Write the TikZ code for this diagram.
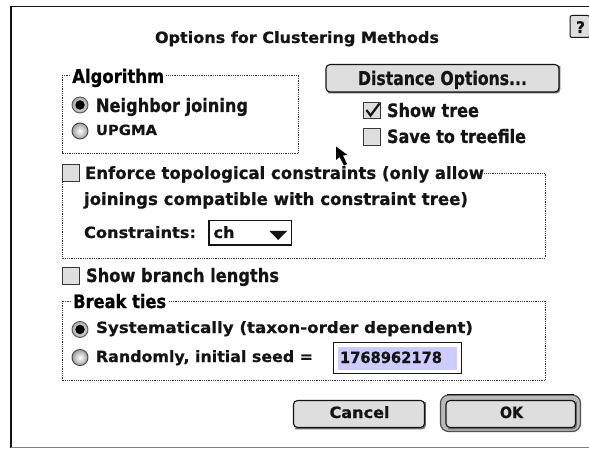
\documentclass[tikz,border=0pt]{standalone}
\usepackage{fontspec}
\setmainfont{DejaVu Sans}[BoldFont={DejaVu Sans Bold},BoldFeatures={FakeBold=0.6}]
\usetikzlibrary{calc}
\definecolor{ink}{HTML}{141414}
\definecolor{btn}{HTML}{DEDEDE}
\definecolor{shade}{HTML}{707070}
\definecolor{sel}{HTML}{CCCCFF}
\newsavebox{\lblbox}
\newcommand{\fitted}[3]{\sbox{\lblbox}{\fontsize{#2}{#2}\selectfont\bfseries #3}\pgfmathsetmacro{\sxf}{#1/\the\wd\lblbox}\scalebox{\sxf}[1]{\usebox{\lblbox}}}
\newcommand{\lbl}[7][]{\node[lab,#1] (#2) at (#3,#4) {\fitted{#5}{#6}{#7}};}
\tikzset{
  x=1pt,y=-1pt,
  lab/.style={anchor=base west,inner sep=0pt,outer sep=0pt,text=ink},
  legend/.style={fill=white,inner xsep=2pt,inner ysep=1pt},
  groupbox/.style={draw=ink!85,line width=0.9pt,dash pattern=on 0.9pt off 0.9pt},
  btnface/.style={draw=ink,line width=1.1pt,rounded corners=4pt,fill=btn},
  btnshadow/.style={draw=shade,line width=1.6pt,rounded corners=3pt},
  chk/.style={draw=ink!85,line width=1pt,fill=btn},
  field/.style={draw=ink,line width=1.2pt,fill=white},
  radioon/.style={circle,minimum size=16pt,inner sep=0pt,draw=ink!70,line width=0.9pt,inner color=white,outer color=gray!70},
  radiooff/.style={circle,minimum size=16pt,inner sep=0pt,draw=ink!80,line width=0.9pt,inner color=white,outer color=gray!75},
  dot/.style={circle,minimum size=9.5pt,inner sep=0pt,fill=black},
}
\begin{document}
\begin{tikzpicture}
\useasboundingbox (0,0) rectangle (589,449);
\fill[white] (0,0) rectangle (589,449);
% window frame
\coordinate (wtl) at (11,6.5);
\coordinate (wtr) at (589,6.5);
\coordinate (wbl) at (11,447.5);
\coordinate (wbr) at (589,447.5);
\draw[ink,line width=1.3pt] (wtr) -- (wtl) -- (wbl);
\draw[gray,line width=1.2pt] (wbl) -- (wbr);
% title
\lbl{title}{155}{43}{284}{15.5}{Options for Clustering Methods}
% help button
\draw[btnface,line width=1pt,rounded corners=2pt] (570,15.5) -- (589.5,15.5) -- (589.5,37.5) -- (570,37.5) -- cycle;
\lbl{help}{576}{33}{9}{16}{?}
% Algorithm group
\draw[groupbox] (62,75) rectangle (298.5,153);
\node[legend,anchor=base west,inner xsep=2pt] (algbg) at (70,83) {\fitted{92}{19}{Algorithm}};
\node[radioon] (rnj) at (80,105) {};
\node[dot] (rnjd) at (80,105) {};
\lbl{nj}{96}{112}{152}{18.5}{Neighbor joining}
\node[radiooff] (rup) at (80,131) {};
\lbl{up}{96}{135}{61}{14}{UPGMA}
% Distance options
\draw[btnshadow] (328,92.5) -- (559.5,92.5) -- (559.5,66);
\draw[btnface] (326,64.5) rectangle (559,92);
\lbl{dist}{358}{85}{169}{19}{Distance Options...}
% Checks
\draw[chk] (363,102.5) rectangle (380,118.5);
\draw[ink,line width=2.2pt] (366.5,110) coordinate (c1) -- (370.5,115.5) coordinate (c2) -- (379.5,103.5) coordinate (c3);
\lbl{st}{387}{117}{92}{18.5}{Show tree}
\draw[chk] (363,128.5) rectangle (380,145.5);
\lbl{sv}{387}{143}{139}{18.5}{Save to treefile}
% Cursor
\fill[black] (336,146.5) coordinate (cur) -- (336,160) -- (339.5,157) -- (344,165.5) -- (347,164) -- (343,155.5) -- (347.5,155) -- cycle;
% Enforce group
\draw[groupbox] (62,182) -- (62,258) -- (545,258) -- (545,173) -- (484,173);
\draw[chk] (62.5,165) rectangle (79,181.5);
\lbl{en}{85}{179}{399}{17}{Enforce topological constraints (only allow}
\lbl{jo}{84}{205}{384}{17}{joinings compatible with constraint tree)}
\lbl{co}{84}{238}{112}{15.5}{Constraints:}
\draw[ink,line width=1.1pt] (209,220.5) -- (291.5,220.5) -- (291.5,245) -- (209,245) -- cycle;
\draw[ink,line width=1.1pt] (291.8,221) -- (291.8,245.5) -- (209,245.5);
\lbl{ch}{213.5}{238}{21}{15.5}{ch}
\fill[ink] (269.5,231) coordinate (tri) -- (287,231) -- (278.2,240) -- cycle;
% Show branch lengths
\draw[chk] (62.5,267) rectangle (79,284.5);
\lbl{br}{86}{282}{193}{18.5}{Show branch lengths}
% Break ties group
\draw[groupbox] (62,301) rectangle (545,380.5);
\node[legend,anchor=base west] (bkbg) at (71,308) {\fitted{93}{18.5}{Break ties}};
\node[radioon] (rsy) at (80,329.5) {};
\node[dot] (rsyd) at (80,329.5) {};
\lbl{sy}{96}{333}{377}{15.5}{Systematically (taxon-order dependent)}
\node[radiooff] (rra) at (80,357.5) {};
\lbl{ra}{96}{362}{217}{15.5}{Randomly, initial seed =}
\draw[field] (333.5,342.5) rectangle (461.5,373.5);
\fill[sel] (337.5,346.5) rectangle (457,370);
\lbl{sd}{340}{363}{102}{15.5}{1768962178}
% Cancel
\draw[btnshadow] (295,428.5) -- (425,428.5) -- (425,402);
\draw[btnface] (293.5,400.5) rectangle (424.5,427.5);
\lbl{ca}{329.5}{418}{60}{15.5}{Cancel}
% OK
\draw[draw=ink!75,line width=1.2pt,fill=gray!55,rounded corners=8pt] (440.5,395) rectangle (580.5,431.5);
\draw[ink,line width=1.8pt] (447,394.5) -- (574,394.5);
\draw[btnshadow] (448,428.5) -- (576,428.5) -- (576,402);
\draw[btnface,fill=btn] (446,400.5) rectangle (575.5,427.5);
\lbl{ok}{500}{418}{23}{15.5}{OK}
\end{tikzpicture}
\end{document}
